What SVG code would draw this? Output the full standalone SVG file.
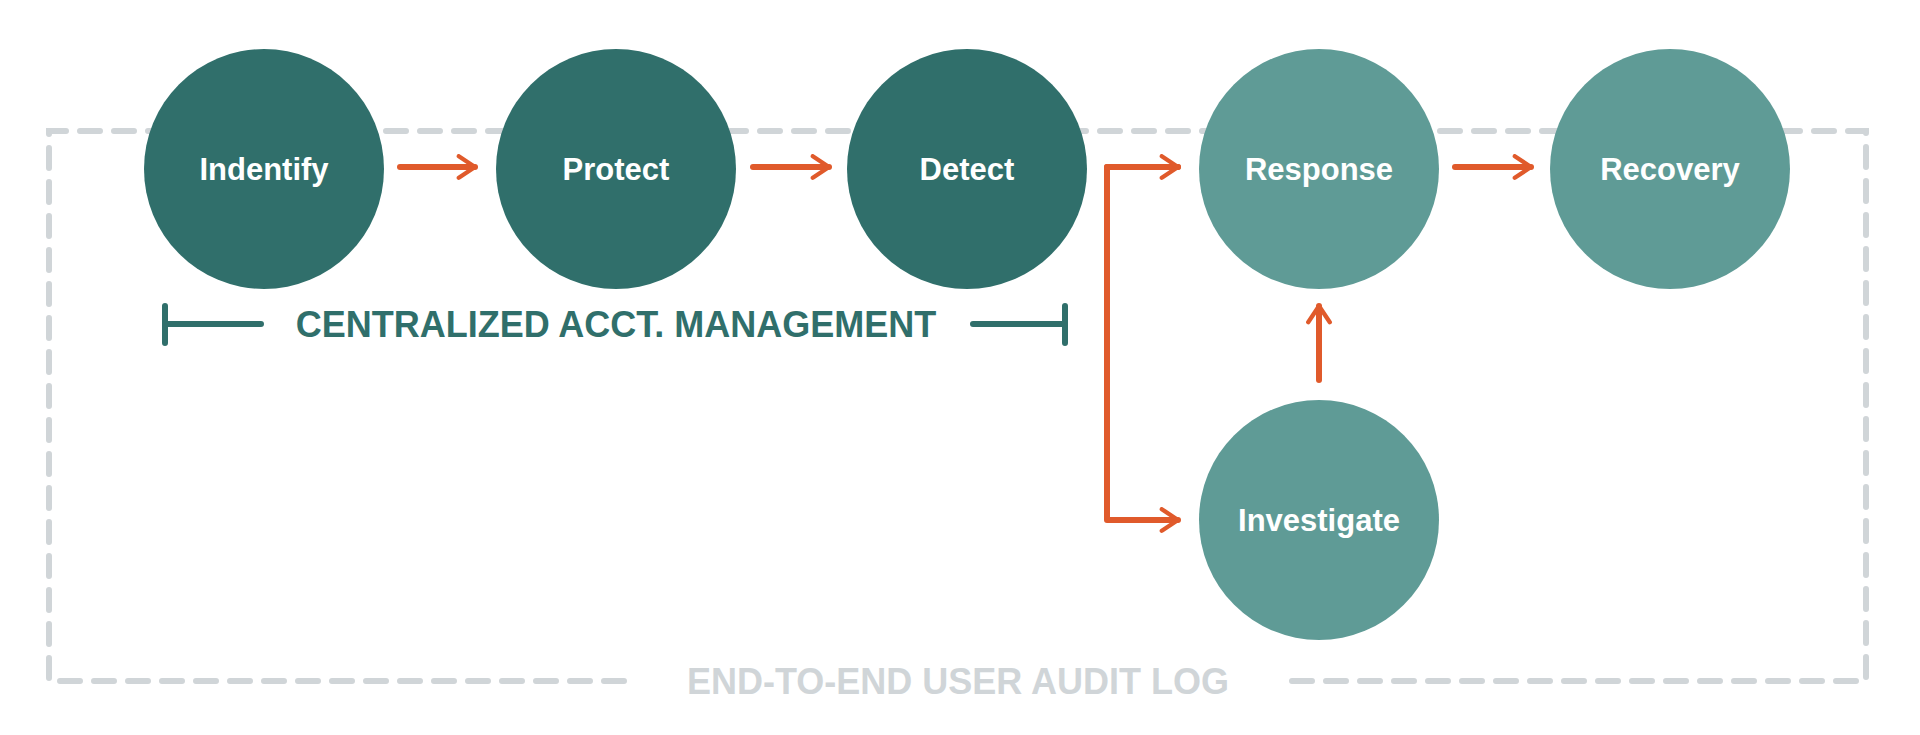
<svg xmlns="http://www.w3.org/2000/svg" width="1920" height="735" viewBox="0 0 1920 735">
<defs>
<marker id="ah" viewBox="0 0 10 10" refX="8" refY="5" markerWidth="4.5" markerHeight="4.5" markerUnits="strokeWidth" orient="auto">
<path d="M2,1 L8,5 L2,9" fill="none" stroke="#e05a2b" stroke-width="1.6" stroke-linecap="round" stroke-linejoin="round"/>
</marker>
</defs>
<style>
.dark{fill:#306f6b}.light{fill:#5f9b96}
.lbl{font-family:"Liberation Sans",Arial,sans-serif;font-weight:bold;font-size:31px;fill:#fff;text-anchor:middle}
.con{stroke:#e05a2b;stroke-width:6;fill:none;stroke-linecap:round;stroke-linejoin:round}
.box{stroke:#d0d5d8;stroke-width:6;fill:none;stroke-dasharray:20 14;stroke-linecap:round}
</style>
<rect width="1920" height="735" fill="#fff"/>
<g id="audit">
<path class="box" d="M624,681 H49 V131 H1866 V681 H1292"/>
<text x="958" y="694" font-family="Liberation Sans,Arial,sans-serif" font-weight="bold" font-size="36" fill="#d0d5d8" text-anchor="middle">END-TO-END USER AUDIT LOG</text>
</g>
<g id="centralized">
<path d="M165,306 V343 M165,324 H261 M973,324 H1065 M1065,306 V343" stroke="#306f6b" stroke-width="6" fill="none" stroke-linecap="round"/>
<text x="616" y="337" font-family="Liberation Sans,Arial,sans-serif" font-weight="bold" font-size="36" fill="#306f6b" text-anchor="middle">CENTRALIZED ACCT. MANAGEMENT</text>
</g>
<g id="connectors">
<path class="con" marker-end="url(#ah)" d="M400,167 H475"/>
<path class="con" marker-end="url(#ah)" d="M753,167 H829"/>
<path class="con" marker-end="url(#ah)" d="M1178,167 H1107 V520 H1178"/>
<path class="con" marker-end="url(#ah)" d="M1107,167 H1178"/>
<path class="con" marker-end="url(#ah)" d="M1455,167 H1531"/>
<path class="con" marker-end="url(#ah)" d="M1319,380 V306"/>
</g>
<g id="indentify"><circle class="dark" cx="264" cy="169" r="120"/><text class="lbl" x="264" y="180">Indentify</text></g>
<g id="protect"><circle class="dark" cx="616" cy="169" r="120"/><text class="lbl" x="616" y="180">Protect</text></g>
<g id="detect"><circle class="dark" cx="967" cy="169" r="120"/><text class="lbl" x="967" y="180">Detect</text></g>
<g id="response"><circle class="light" cx="1319" cy="169" r="120"/><text class="lbl" x="1319" y="180">Response</text></g>
<g id="recovery"><circle class="light" cx="1670" cy="169" r="120"/><text class="lbl" x="1670" y="180">Recovery</text></g>
<g id="investigate"><circle class="light" cx="1319" cy="520" r="120"/><text class="lbl" x="1319" y="531">Investigate</text></g>
</svg>
